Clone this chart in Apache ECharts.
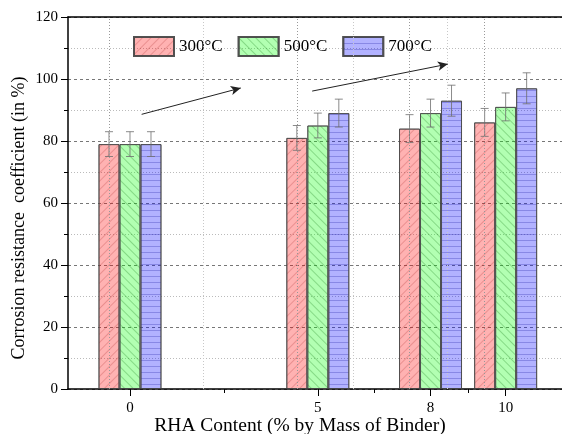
<!DOCTYPE html>
<html>
<head>
<meta charset="utf-8">
<script src="https://cdn.jsdelivr.net/npm/echarts@6/dist/echarts.min.js"></script>
<style>html,body{margin:0;padding:0;background:#fff}#c{width:562px;height:434px}</style>
</head>
<body>
<div id="c"></div>
<script>
// ---- data ----
const categories = [0, 5, 8, 10];
const minorPositions = [2.5, 6.5, 9];
const seriesNames = ['300°C', '500°C', '700°C'];
const values300 = [79, 81, 84, 86];
const values500 = [79, 85, 89, 91];
const values700 = [79, 89, 93, 97];
const err300 = [4, 4, 4.5, 4.5];
const err500 = [4, 4, 4.5, 4.5];
const err700 = [4, 4.5, 5, 5];
const yTickMin = 0, yTickMax = 120, yTickStep = 20;
const arrowCoords = [
  [[0.31, 88.6], [2.95, 97.1]],
  [[4.85, 96.1], [8.46, 104.8]]
];

// ---- styles ----
const BAR_W = 21;
const FONT = 'Liberation Serif';
const fills = ['rgba(255,0,0,0.3)', 'rgba(0,255,0,0.3)', 'rgba(0,0,255,0.3)'];
const decals = [
  {symbol: 'rect', symbolSize: 1, dashArrayX: [1, 0], dashArrayY: [1, 5], rotation: -Math.PI / 4, color: 'rgba(170,40,40,0.25)'},
  {symbol: 'rect', symbolSize: 1, dashArrayX: [1, 0], dashArrayY: [1, 5], rotation: Math.PI / 4, color: 'rgba(30,130,30,0.3)'},
  {symbol: 'rect', symbolSize: 1, dashArrayX: [1, 0], dashArrayY: [1, 5], rotation: 0, color: 'rgba(40,40,170,0.3)'}
];
const valueSets = [values300, values500, values700];
const errSets = [err300, err500, err700];
const X_MIN = -1.65, X_MAX = 11.5;

const chart = echarts.init(document.getElementById('c'), null, {renderer: 'canvas'});

function errRender(idx) {
  return function (params, api) {
    const x = api.value(0), v = api.value(1), e = api.value(2);
    const top = api.coord([x, v + e]);
    const bot = api.coord([x, v - e]);
    const cx = top[0] + (idx - 1) * BAR_W;
    const cap = 4;
    const st = {stroke: 'rgba(110,110,110,0.8)', lineWidth: 1};
    return {type: 'group', children: [
      {type: 'line', shape: {x1: cx, y1: top[1], x2: cx, y2: bot[1]}, style: st},
      {type: 'line', shape: {x1: cx - cap, y1: top[1], x2: cx + cap, y2: top[1]}, style: st},
      {type: 'line', shape: {x1: cx - cap, y1: bot[1], x2: cx + cap, y2: bot[1]}, style: st}
    ]};
  };
}

const series = [];
seriesNames.forEach(function (name, i) {
  series.push({
    name: name,
    type: 'bar',
    xAxisIndex: 0,
    barWidth: BAR_W,
    barGap: '0%',
    data: categories.map(function (c, k) { return [c, valueSets[i][k]]; }),
    itemStyle: {color: fills[i], borderColor: 'rgba(70,70,70,0.75)', borderWidth: 1, decal: decals[i]},
    z: 2
  });
});
// vertical grid lines and arrows
series[0].markLine = {
  silent: true, symbol: 'none', label: {show: false}, animation: false,
  lineStyle: {color: '#999', type: [1, 2], width: 1},
  data: categories.map(function (c) { return {xAxis: c}; })
    .concat(minorPositions.map(function (c) { return {xAxis: c, lineStyle: {color: '#c8c8c8', type: [1, 2], width: 1}}; }))
};
series[1].markLine = {
  silent: true, symbol: ['none', 'arrow'], symbolSize: [7, 10], label: {show: false}, animation: false,
  lineStyle: {color: '#222', type: 'solid', width: 1},
  data: arrowCoords.map(function (a) { return [{coord: a[0]}, {coord: a[1]}]; })
};
seriesNames.forEach(function (name, i) {
  series.push({
    type: 'custom',
    name: name + ' err',
    xAxisIndex: 0,
    renderItem: errRender(i),
    encode: {x: 0, y: 1},
    data: categories.map(function (c, k) { return [c, valueSets[i][k], errSets[i][k]]; }),
    z: 4,
    silent: true
  });
});

chart.setOption({
  animation: false,
  backgroundColor: '#fff',
  textStyle: {fontFamily: FONT},
  grid: {left: 68, top: 17, right: 0, bottom: 45, show: false, containLabel: false, outerBoundsMode: 'none'},
  legend: {
    data: seriesNames,
    left: 128, top: 31,
    itemWidth: 40, itemHeight: 19, itemGap: 15,
    icon: 'rect',
    textStyle: {fontFamily: FONT, fontSize: 17, color: '#000'}
  },
  xAxis: [{
    type: 'value', min: X_MIN, max: X_MAX,
    name: 'RHA Content (% by Mass of Binder)',
    nameLocation: 'middle', nameGap: 27, nameMoveOverlap: false,
    nameTextStyle: {fontFamily: FONT, fontSize: 19.5, color: '#000', padding: [0, 30, 0, 0]},
    axisLine: {show: true, onZero: false, lineStyle: {color: '#000', width: 1.5}},
    axisTick: {show: true, inside: false, length: 7, customValues: categories, lineStyle: {color: '#000', width: 1}},
    axisLabel: {show: true, customValues: categories, fontFamily: FONT, fontSize: 15, color: '#000', margin: 12},
    splitLine: {show: false}
  }, {
    type: 'value', min: X_MIN, max: X_MAX, position: 'bottom',
    axisLine: {show: false},
    axisTick: {show: true, inside: false, length: 4, customValues: minorPositions, lineStyle: {color: '#000', width: 1}},
    axisLabel: {show: false},
    splitLine: {show: false}
  }, {
    type: 'value', min: X_MIN, max: X_MAX, position: 'top',
    axisLine: {show: true, onZero: false, lineStyle: {color: '#000', width: 1.5}},
    axisTick: {show: false},
    axisLabel: {show: false},
    splitLine: {show: false}
  }],
  yAxis: {
    type: 'value', min: yTickMin, max: yTickMax, interval: yTickStep,
    name: 'Corrosion resistance  coefficient (in %)',
    nameLocation: 'middle', nameGap: 40, nameMoveOverlap: false,
    nameTextStyle: {fontFamily: FONT, fontSize: 18, color: '#000', padding: [0, 30, 0, 0]},
    axisLine: {show: true, onZero: false, lineStyle: {color: '#000', width: 1.5}},
    axisTick: {show: true, inside: false, length: 7, lineStyle: {color: '#000', width: 1}},
    minorTick: {show: true, splitNumber: 2, length: 4, lineStyle: {color: '#000', width: 1}},
    axisLabel: {fontFamily: FONT, fontSize: 15, color: '#000', margin: 10},
    splitLine: {show: true, lineStyle: {color: '#777', type: [3, 3], width: 1}},
    minorSplitLine: {show: true, lineStyle: {color: '#bbb', type: [1, 2], width: 1}}
  },
  series: series
});
</script>
</body>
</html>
